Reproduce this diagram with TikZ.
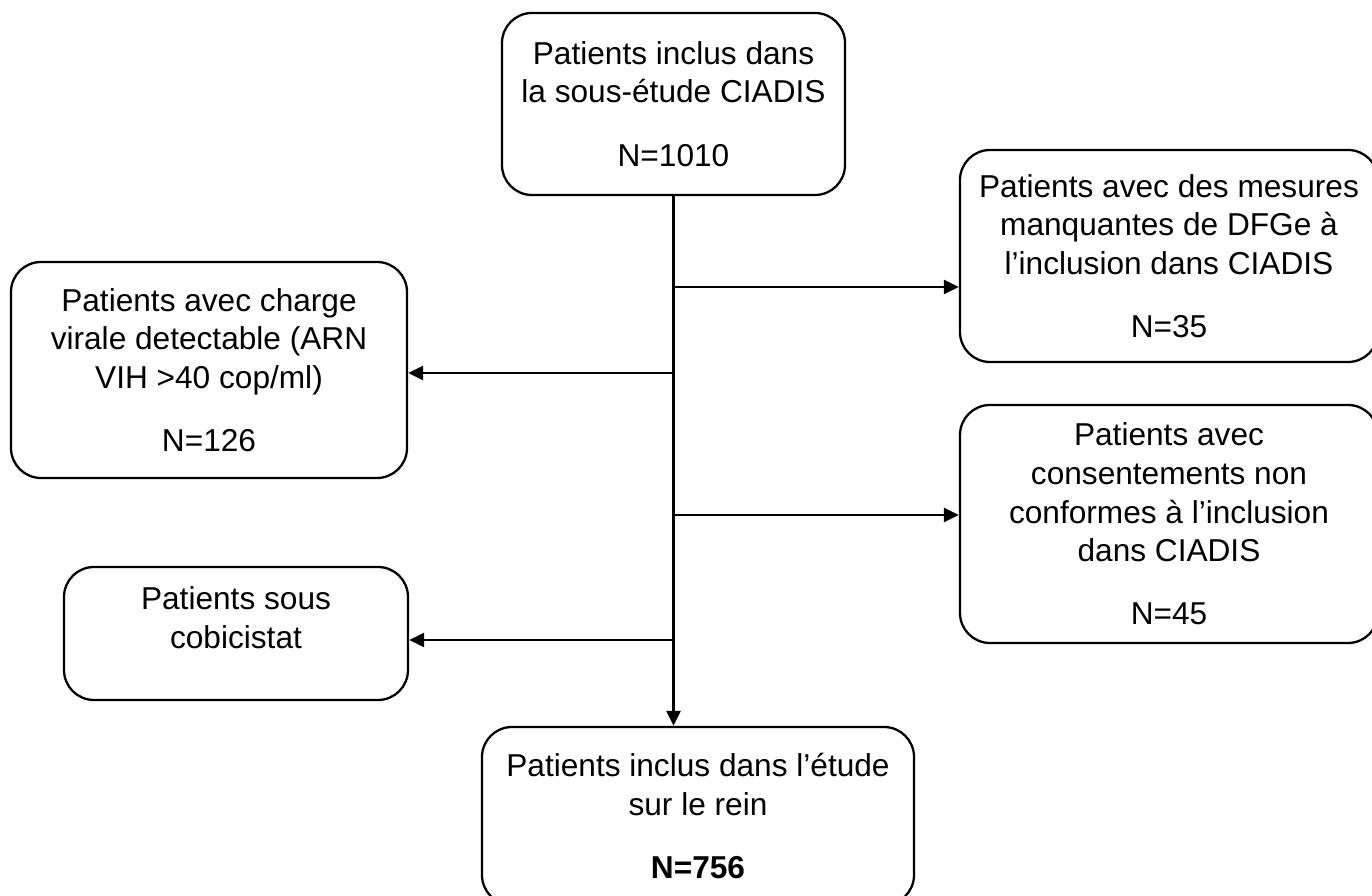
\documentclass[tikz,border=0pt]{standalone}
\usepackage{fontspec}
\setmainfont{Liberation Sans}
\usetikzlibrary{arrows.meta}

\begin{document}
\begin{tikzpicture}[>={Triangle[length=0.3cm,width=0.28cm]}, line width=1.3pt,
    boite/.style={draw, rounded corners=0.6cm, align=center, inner sep=0pt,
        font=\fontsize{18}{22}\selectfont}]
    \clip (0,0) rectangle (27.44,17.92);

    % Boites
    \node[boite, minimum width=6.86cm, minimum height=3.64cm] (inclus) at (13.47,15.84) {Patients inclus dans\\la sous-étude CIADIS\\[14pt]N=1010};

    \node[boite, minimum width=8.36cm, minimum height=4.24cm] (manquant) at (23.38,12.80) {Patients avec des mesures\\manquantes de DFGe à\\l’inclusion dans CIADIS\\[14pt]N=35};

    \node[boite, minimum width=7.92cm, minimum height=4.32cm] (charge) at (4.18,10.52) {Patients avec charge\\virale detectable (ARN\\VIH >40 cop/ml)\\[14pt]N=126};

    \node[boite, minimum width=8.36cm, minimum height=4.76cm] (consent) at (23.38,7.44) {Patients avec\\consentements non\\conformes à l’inclusion\\dans CIADIS\\[14pt]N=45};

    \node[boite, minimum width=6.88cm, minimum height=2.66cm] (cobi) at (4.72,5.25) {Patients sous\\cobicistat\\[-4pt]\mbox{}};

    \node[boite, minimum width=8.64cm, minimum height=3.56cm] (rein) at (13.96,1.60) {Patients inclus dans l’étude\\sur le rein\\[14pt]\textbf{N=756}};

    % Branchements
    \coordinate (b1) at (inclus.south |- 0,12.18);
    \coordinate (b2) at (inclus.south |- 0,10.46);
    \coordinate (b3) at (inclus.south |- 0,7.62);
    \coordinate (b4) at (inclus.south |- 0,5.12);

    % Fleches
    \draw[->] (inclus.south) -- (inclus.south |- rein.north);
    \draw[->] (b1) -- (b1 -| manquant.west);
    \draw[->] (b2) -- (b2 -| charge.east);
    \draw[->] (b3) -- (b3 -| consent.west);
    \draw[->] (b4) -- (b4 -| cobi.east);

\end{tikzpicture}
\end{document}
